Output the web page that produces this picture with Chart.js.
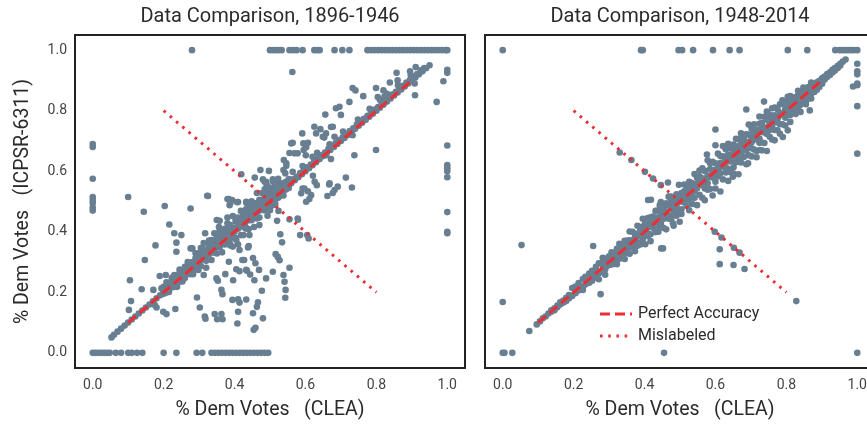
<!DOCTYPE html>
<html>
<head>
<meta charset="utf-8">
<title>Data Comparison</title>
<script src="https://cdn.jsdelivr.net/npm/chart.js@4.4.1/dist/chart.umd.min.js"></script>
<style>
  html, body { margin: 0; padding: 0; background: #fff; overflow: hidden; }
  body { width: 867px; height: 424px; position: relative; }
  .panel { position: absolute; top: 0; }
  #early-panel { left: 0; }
  #late-panel { left: 470px; }
</style>
</head>
<body>
<div class="panel" id="early-panel"><canvas id="early-chart" width="470" height="424"></canvas></div>
<div class="panel" id="late-panel"><canvas id="late-chart" width="410" height="424"></canvas></div>
<script>
// Axis ticks (both panels share them)
const axisTicks = [0, 0.2, 0.4, 0.6, 0.8, 1.0];
const axisTickLabels = ['0.0', '0.2', '0.4', '0.6', '0.8', '1.0'];

// Reference lines
const accuracyLine = [[0.1, 0.1], [0.9, 0.9]];
const mislabeledLine = [[0.2, 0.8], [0.8, 0.2]];

// ---- 1896-1946 ----
// districts sitting right on the diagonal
const earlyDiagonal = [
  [0.053,0.051],[0.06,0.06],[0.07,0.07],[0.08,0.08],[0.09,0.09],[0.1,0.1],[0.11,0.11],[0.12,0.12],[0.13,0.13],[0.14,0.14],
  [0.15,0.15],[0.16,0.16],[0.17,0.17],[0.18,0.18],[0.19,0.19],[0.2,0.2],[0.21,0.21],[0.22,0.22],[0.23,0.23],[0.24,0.24],
  [0.25,0.25],[0.26,0.26],[0.27,0.27],[0.28,0.28],[0.29,0.29],[0.3,0.3],[0.31,0.31],[0.32,0.32],[0.33,0.33],[0.34,0.34],
  [0.35,0.35],[0.36,0.36],[0.37,0.37],[0.38,0.38],[0.39,0.39],[0.4,0.4],[0.41,0.41],[0.42,0.42],[0.43,0.43],[0.44,0.44],
  [0.45,0.45],[0.46,0.46],[0.47,0.47],[0.48,0.48],[0.49,0.49],[0.5,0.5],[0.51,0.51],[0.52,0.52],[0.53,0.53],[0.54,0.54],
  [0.55,0.55],[0.56,0.56],[0.57,0.57],[0.58,0.58],[0.59,0.59],[0.6,0.6],[0.61,0.61],[0.62,0.62],[0.63,0.63],[0.64,0.64],
  [0.65,0.65],[0.66,0.66],[0.67,0.67],[0.68,0.68],[0.69,0.69],[0.7,0.7],[0.71,0.71],[0.72,0.72],[0.73,0.73],[0.74,0.74],
  [0.75,0.75],[0.76,0.76],[0.77,0.77],[0.78,0.78],[0.79,0.79],[0.8,0.8],[0.81,0.81],[0.82,0.82],[0.83,0.83],[0.84,0.84],
  [0.85,0.85],[0.86,0.86],[0.87,0.87],[0.88,0.88],[0.89,0.89],[0.9,0.9],[0.91,0.91],[0.92,0.92],[0.93,0.93],[0.94,0.94],[0.95,0.95]
];
// cluster around the diagonal: [x, y, y, ...]
const earlyBand = [
  [0.200, 0.207, 0.195, 0.218, 0.202], [0.208, 0.199, 0.221, 0.211, 0.233], [0.215, 0.231, 0.213, 0.223, 0.201],
  [0.223, 0.225, 0.245, 0.216, 0.234], [0.230, 0.241, 0.218, 0.257, 0.235], [0.238, 0.234, 0.245, 0.255, 0.218],
  [0.245, 0.265, 0.246, 0.235, 0.275], [0.253, 0.258, 0.267, 0.236, 0.262], [0.260, 0.247, 0.284, 0.264, 0.279],
  [0.268, 0.277, 0.261, 0.300, 0.266], [0.275, 0.298, 0.279, 0.260, 0.288], [0.283, 0.284, 0.300, 0.290, 0.260],
  [0.290, 0.313, 0.276, 0.329, 0.298], [0.298, 0.290, 0.313, 0.329, 0.274], [0.305, 0.346, 0.309, 0.287, 0.326],
  [0.313, 0.323, 0.342, 0.308, 0.363], [0.320, 0.304, 0.339, 0.327, 0.281], [0.328, 0.355, 0.326, 0.371, 0.341],
  [0.335, 0.340, 0.370, 0.307, 0.358], [0.343, 0.331, 0.355, 0.395, 0.336], [0.350, 0.382, 0.328, 0.367, 0.388],
  [0.358, 0.373, 0.403, 0.349, 0.361], [0.365, 0.361, 0.389, 0.332, 0.397], [0.373, 0.410, 0.381, 0.395, 0.358],
  [0.380, 0.382, 0.428, 0.365, 0.447], [0.388, 0.412, 0.355, 0.422, 0.396], [0.395, 0.382, 0.413, 0.452, 0.351],
  [0.403, 0.444, 0.409, 0.379, 0.434], [0.410, 0.419, 0.447, 0.424, 0.358], [0.418, 0.389, 0.440, 0.469, 0.419],
  [0.425, 0.457, 0.417, 0.445, 0.389], [0.433, 0.448, 0.496, 0.412, 0.475], [0.440, 0.438, 0.466, 0.484, 0.409],
  [0.448, 0.501, 0.459, 0.438, 0.476], [0.455, 0.476, 0.495, 0.416, 0.461], [0.463, 0.444, 0.466, 0.493, 0.528],
  [0.470, 0.506, 0.447, 0.483, 0.422], [0.478, 0.485, 0.528, 0.472, 0.502], [0.485, 0.514, 0.471, 0.540, 0.497],
  [0.493, 0.484, 0.526, 0.512, 0.453], [0.500, 0.546, 0.501, 0.471, 0.537], [0.508, 0.522, 0.567, 0.516, 0.488],
  [0.515, 0.492, 0.536, 0.556, 0.508], [0.523, 0.557, 0.512, 0.534, 0.575], [0.530, 0.536, 0.558, 0.519, 0.547],
  [0.538, 0.555, 0.535, 0.561, 0.520], [0.545, 0.540, 0.556, 0.549, 0.565], [0.553, 0.566, 0.574, 0.545, 0.554],
  [0.565, 0.573], [0.575, 0.582], [0.585, 0.594], [0.592, 0.617], [0.595, 0.601], [0.605, 0.613], [0.615, 0.622],
  [0.625, 0.634], [0.633, 0.661], [0.635, 0.641], [0.645, 0.653], [0.655, 0.662], [0.665, 0.674], [0.668, 0.689],
  [0.675, 0.681], [0.685, 0.693], [0.695, 0.703], [0.705, 0.712], [0.706, 0.731], [0.715, 0.723], [0.725, 0.733],
  [0.735, 0.742], [0.745, 0.754], [0.748, 0.771], [0.755, 0.761], [0.765, 0.773], [0.775, 0.783], [0.781, 0.806],
  [0.785, 0.792], [0.795, 0.804], [0.805, 0.812], [0.815, 0.823], [0.823, 0.847], [0.825, 0.833], [0.835, 0.842],
  [0.845, 0.853], [0.855, 0.862], [0.861, 0.884], [0.865, 0.874], [0.875, 0.882], [0.885, 0.893], [0.895, 0.902],
  [0.897, 0.918], [0.905, 0.913], [0.915, 0.921], [0.925, 0.933], [0.935, 0.941]
];
// scattered districts
const earlyScatter = [
  [0.100,0.515],[0.203,0.485],[0.144,0.466],[0.276,0.477],[0.323,0.519],
  [0.105,0.240],[0.108,0.171],[0.102,0.142],[0.138,0.210],[0.147,0.307],[0.177,0.355],[0.189,0.254],[0.171,0.208],
  [0.175,0.158],[0.180,0.150],[0.199,0.136],[0.208,0.128],[0.233,0.145],[0.194,0.213],[0.206,0.257],
  [0.216,0.424],[0.230,0.395],[0.236,0.364],[0.250,0.389],[0.236,0.334],[0.224,0.249],[0.236,0.243],[0.250,0.244],
  [0.276,0.345],[0.281,0.345],[0.294,0.183],[0.302,0.150],[0.316,0.120],[0.318,0.113],[0.313,0.257],[0.344,0.128],
  [0.363,0.128],[0.351,0.111],[0.366,0.111],[0.349,0.246],[0.353,0.238],[0.363,0.208],[0.366,0.194],[0.374,0.260],
  [0.384,0.301],[0.394,0.175],[0.396,0.240],[0.405,0.276],[0.414,0.270],[0.410,0.177],[0.414,0.166],[0.410,0.136],
  [0.408,0.097],[0.422,0.307],[0.433,0.274],[0.433,0.176],[0.438,0.348],[0.427,0.307],[0.435,0.271],[0.452,0.313],
  [0.459,0.296],[0.444,0.259],[0.456,0.240],[0.466,0.167],[0.463,0.152],[0.452,0.131],[0.459,0.083],[0.454,0.076],
  [0.480,0.114],[0.477,0.205],[0.489,0.246],[0.469,0.274],[0.508,0.268],[0.516,0.326],[0.522,0.317],[0.527,0.306],
  [0.534,0.365],[0.538,0.257],[0.541,0.235],[0.544,0.208],[0.543,0.182],[0.555,0.281],
  [0.335,0.373],[0.353,0.373],[0.317,0.395],[0.386,0.367],[0.405,0.373],[0.414,0.340],[0.440,0.353],[0.431,0.411],
  [0.442,0.389],[0.367,0.406],[0.356,0.416],
  [0.325,0.518],[0.384,0.508],[0.388,0.494],[0.410,0.498],[0.380,0.508],[0.393,0.505],[0.407,0.498],[0.386,0.488],
  [0.433,0.499],[0.419,0.590],[0.457,0.579],[0.480,0.573],[0.489,0.565],[0.473,0.604],[0.497,0.601],[0.485,0.565],
  [0.491,0.554],[0.508,0.573],[0.513,0.548],
  [0.539,0.637],[0.546,0.626],[0.543,0.593],[0.546,0.618],[0.538,0.604],[0.564,0.598],[0.557,0.565],[0.560,0.692],
  [0.569,0.659],[0.578,0.659],[0.555,0.660],[0.564,0.694],[0.591,0.725],[0.594,0.692],[0.602,0.679],[0.601,0.653],
  [0.595,0.670],[0.607,0.694],[0.625,0.747],[0.630,0.725],[0.649,0.714],[0.658,0.725],[0.677,0.747],[0.682,0.714],
  [0.642,0.739],[0.653,0.711],[0.620,0.648],[0.658,0.653],[0.656,0.787],[0.672,0.746],[0.686,0.808],[0.696,0.813],
  [0.700,0.786],[0.724,0.829],[0.733,0.875],[0.741,0.867],[0.763,0.848],[0.799,0.875],[0.804,0.845],[0.810,0.836],
  [0.820,0.867],[0.830,0.856],[0.838,0.893],[0.857,0.925],[0.860,0.900],[0.895,0.930],[0.911,0.944],[0.563,0.928],
  [0.632,0.554],[0.668,0.560],[0.682,0.538],[0.592,0.543],[0.607,0.534],[0.616,0.521],[0.602,0.499],[0.611,0.508],
  [0.588,0.527],[0.597,0.543],[0.621,0.585],[0.626,0.565],[0.662,0.518],[0.667,0.556],[0.677,0.528],[0.691,0.549],
  [0.714,0.579],[0.731,0.546],[0.738,0.653],[0.672,0.640],[0.799,0.670],[0.733,0.719],
  [0.585,0.389],[0.605,0.389],[0.609,0.378],[0.579,0.440],[0.520,0.436],[0.524,0.469],[0.555,0.441],[0.578,0.444],
  [0.529,0.392],[0.435,0.458],[0.350,0.439],[0.358,0.436],
  [0.909,0.851],[0.908,0.890],[0.970,0.829],[0.989,0.897]
];
// districts coded 0 or 1 in one of the sources
const earlyEdges = [
  [0,0.69],[0,0.68],[0,0.575],[0,0.515],[0,0.505],[0,0.495],[0,0.48],[0,0.47],
  [1,0.935],[1,0.925],[1,0.685],[1,0.62],[1,0.61],[1,0.6],[1,0.58],[1,0.465],[1,0.4],[1,0.395],
  [0,0],[0.008,0],[0.016,0],[0.024,0],[0.032,0],[0.04,0],[0.048,0],[0.065,0],[0.08,0],[0.1,0],[0.11,0],[0.125,0],
  [0.14,0],[0.2,0],[0.236,0],[0.293,0],[0.309,0],[0.335,0],[0.345,0],[0.355,0],[0.365,0],[0.375,0],[0.385,0],
  [0.395,0],[0.405,0],[0.415,0],[0.425,0],[0.435,0],[0.445,0],[0.455,0],[0.465,0],[0.475,0],[0.485,0],[0.495,0],
  [0.28,1],[0.5,1],[0.508,1],[0.516,1],[0.524,1],[0.533,1],[0.555,1],[0.565,1],[0.575,1],[0.592,1],[0.625,1],
  [0.633,1],[0.64,1],[0.682,1],[0.704,1],[0.724,1],[0.775,1],[0.785,1],[0.795,1],[0.805,1],[0.815,1],[0.825,1],
  [0.835,1],[0.845,1],[0.855,1],[0.865,1],[0.875,1],[0.885,1],[0.895,1],[0.905,1],[0.915,1],[0.925,1],[0.935,1],
  [0.945,1],[0.955,1],[0.965,1],[0.975,1],[0.985,1],[0.995,1],[1,1]
];

// ---- 1948-2014 ----
const lateBand = [
  [0.096, 0.094], [0.105, 0.104], [0.113, 0.114], [0.121, 0.12], [0.129, 0.13], [0.137, 0.136, 0.141],
  [0.146, 0.147, 0.141], [0.154, 0.156, 0.151], [0.162, 0.16, 0.167], [0.171, 0.173, 0.166], [0.179, 0.182, 0.171],
  [0.187, 0.191, 0.18], [0.196, 0.188, 0.214], [0.205, 0.219, 0.197], [0.214, 0.206, 0.231], [0.226, 0.219, 0.244, 0.208],
  [0.233, 0.251, 0.226], [0.244, 0.232, 0.262, 0.246], [0.252, 0.271, 0.238, 0.258], [0.263, 0.249, 0.284, 0.269],
  [0.271, 0.262, 0.296, 0.243], [0.282, 0.301, 0.271, 0.314, 0.288], [0.289, 0.276, 0.305, 0.258], [0.294, 0.312, 0.287],
  [0.300, 0.306, 0.290, 0.319, 0.298], [0.307, 0.292, 0.310, 0.318, 0.332], [0.315, 0.323, 0.310, 0.294, 0.330],
  [0.322, 0.344, 0.310, 0.323, 0.293], [0.329, 0.325, 0.342, 0.311, 0.360], [0.337, 0.354, 0.314, 0.343, 0.329],
  [0.344, 0.346, 0.370, 0.331, 0.310], [0.351, 0.331, 0.361, 0.371, 0.345], [0.358, 0.372, 0.356, 0.327, 0.401],
  [0.366, 0.400, 0.347, 0.371, 0.353], [0.373, 0.364, 0.394, 0.336, 0.382], [0.380, 0.385, 0.420, 0.365, 0.354],
  [0.388, 0.358, 0.405, 0.389, 0.416], [0.395, 0.417, 0.387, 0.375, 0.443], [0.402, 0.413, 0.431, 0.359, 0.399],
  [0.409, 0.395, 0.415, 0.445, 0.386], [0.417, 0.448, 0.392, 0.426, 0.369], [0.424, 0.423, 0.443, 0.413, 0.450],
  [0.431, 0.469, 0.399, 0.444, 0.426], [0.439, 0.419, 0.448, 0.471, 0.400], [0.446, 0.454, 0.498, 0.426, 0.449],
  [0.453, 0.482, 0.442, 0.413, 0.472], [0.461, 0.453, 0.494, 0.466, 0.408], [0.468, 0.486, 0.443, 0.516, 0.454],
  [0.475, 0.479, 0.516, 0.444, 0.499], [0.482, 0.463, 0.498, 0.480, 0.420], [0.490, 0.524, 0.484, 0.511, 0.453],
  [0.497, 0.507, 0.555, 0.470, 0.498], [0.504, 0.474, 0.528, 0.517, 0.459], [0.512, 0.534, 0.497, 0.556, 0.503],
  [0.519, 0.520, 0.555, 0.485, 0.547], [0.526, 0.565, 0.506, 0.535, 0.471], [0.534, 0.521, 0.561, 0.492, 0.548],
  [0.541, 0.557, 0.591, 0.534, 0.512], [0.548, 0.544, 0.560, 0.579, 0.488], [0.555, 0.583, 0.522, 0.560, 0.602],
  [0.563, 0.577, 0.610, 0.554, 0.512, 0.566], [0.570, 0.601, 0.573, 0.543, 0.504, 0.565], [0.578, 0.586, 0.636, 0.560, 0.539, 0.579],
  [0.585, 0.607, 0.581, 0.541, 0.626, 0.583], [0.592, 0.631, 0.603, 0.579, 0.520, 0.598], [0.600, 0.605, 0.626, 0.565, 0.543, 0.596],
  [0.607, 0.658, 0.624, 0.601, 0.583, 0.607], [0.614, 0.627, 0.650, 0.593, 0.533, 0.616], [0.621, 0.649, 0.619, 0.573, 0.683, 0.615],
  [0.629, 0.673, 0.638, 0.614, 0.596, 0.633], [0.636, 0.655, 0.691, 0.607, 0.568, 0.633], [0.643, 0.645, 0.676, 0.632, 0.597, 0.648],
  [0.651, 0.688, 0.666, 0.613, 0.592, 0.650], [0.658, 0.682, 0.707, 0.655, 0.630, 0.665], [0.665, 0.675, 0.706, 0.641, 0.590, 0.660],
  [0.672, 0.725, 0.692, 0.664, 0.629, 0.674], [0.680, 0.696, 0.673, 0.647, 0.711, 0.684], [0.687, 0.722, 0.693, 0.668, 0.623, 0.685],
  [0.694, 0.721, 0.754, 0.653, 0.682, 0.697], [0.702, 0.711, 0.740, 0.676, 0.649, 0.696], [0.709, 0.755, 0.727, 0.704, 0.672, 0.710],
  [0.716, 0.737, 0.720, 0.667, 0.646, 0.713], [0.724, 0.757, 0.781, 0.708, 0.694, 0.729], [0.731, 0.743, 0.760, 0.695, 0.669, 0.730],
  [0.738, 0.780, 0.745, 0.728, 0.693, 0.741], [0.745, 0.770, 0.797, 0.723, 0.667, 0.741], [0.753, 0.759, 0.787, 0.714, 0.736, 0.755],
  [0.760, 0.808, 0.774, 0.753, 0.705, 0.755], [0.767, 0.785, 0.810, 0.736, 0.702, 0.771], [0.775, 0.805, 0.776, 0.761, 0.735, 0.773],
  [0.782, 0.793, 0.821, 0.755, 0.724, 0.788], [0.789, 0.825, 0.834, 0.785, 0.755, 0.791], [0.797, 0.820, 0.805, 0.751, 0.777, 0.794],
  [0.804, 0.846, 0.830, 0.792, 0.735, 0.807], [0.811, 0.826, 0.848, 0.786, 0.763, 0.810], [0.818, 0.842, 0.820, 0.796, 0.809],
  [0.826, 0.830, 0.845, 0.814, 0.789], [0.833, 0.850, 0.866, 0.828, 0.808], [0.840, 0.852, 0.847, 0.820, 0.796],
  [0.848, 0.868, 0.876, 0.838, 0.831], [0.855, 0.857, 0.869, 0.829, 0.821], [0.862, 0.878, 0.867, 0.855, 0.840],
  [0.870, 0.880, 0.893, 0.856, 0.840], [0.879, 0.886, 0.873, 0.862], [0.886, 0.881, 0.894, 0.869], [0.893, 0.899, 0.888, 0.878],
  [0.901, 0.896, 0.908, 0.889], [0.908, 0.913, 0.903], [0.915, 0.911, 0.921], [0.923, 0.927, 0.918], [0.930, 0.926, 0.935],
  [0.937, 0.941, 0.933], [0.945, 0.948, 0.941], [0.952, 0.955, 0.949], [0.959, 0.962], [0.967, 0.969]
];
const lateScatter = [
  [0.053,0.356],[0.075,0.072],[0.255,0.353],[0.276,0.194],[0.447,0.345],[0.452,0.345],[0.828,0.171],
  [0.33,0.662],[0.363,0.637],[0.401,0.598],[0.424,0.576],[0.446,0.554],[0.466,0.563],[0.48,0.428],[0.499,0.433],
  [0.598,0.4],[0.617,0.381],[0.612,0.342],[0.612,0.293],[0.652,0.347],[0.668,0.331],[0.651,0.29],[0.682,0.277],
  [0.6,0.738],[0.687,0.804],[0.737,0.83],[0.6,0.686],[0.576,0.655],[0.418,0.506],[0.41,0.505],[0.443,0.488],
  [0.866,0.801],[0.79,0.713],[0.725,0.67],[0.692,0.626],[0.649,0.582],[0.988,0.88]
];
const lateEdges = [
  [0,0.168],[0,0],[0.005,0],[0.027,0],[0.455,0],[1,0],
  [1,0.955],[1,0.93],[1,0.92],[1,0.89],[1,0.884],[1,0.815],[1,0.658],
  [0,1],[0.39,1],[0.395,1],[0.496,1],[0.506,1],[0.537,1],[0.593,1],[0.64,1],[0.668,1],[0.804,1],[0.859,1],
  [0.938,1],[0.95,1],[0.958,1],[0.966,1],[0.974,1],[0.982,1],[0.99,1],[1,1]
];

const RED = '#ec2d32';
const DOT = '#687f92';
const TEXT = '#2b2b2b';
const FONT = 'Roboto, "DejaVu Sans", sans-serif';

/**
 * Turn [x, y] pairs into chart points
 */
function toPoints(pairs) {
  return pairs.map(([x, y]) => ({ x, y }));
}

/**
 * Turn band rows [x, y, y, ...] into chart points
 */
function bandPoints(rows) {
  return rows.flatMap(([x, ...ys]) => ys.map(y => ({ x, y })));
}

/**
 * Dark frame around the plot area, plus the panel title centred over it
 */
const framePlugin = {
  id: 'frame',
  afterDraw(chart, args, opts) {
    const { ctx, chartArea: a } = chart;
    ctx.save();
    ctx.strokeStyle = '#222';
    ctx.lineWidth = 2;
    ctx.strokeRect(a.left, a.top, a.right - a.left, a.bottom - a.top);
    ctx.fillStyle = TEXT;
    ctx.font = '20px ' + FONT;
    ctx.textAlign = 'center';
    ctx.textBaseline = 'middle';
    ctx.fillText(opts.title, (a.left + a.right) / 2, 17);
    ctx.restore();
  }
};

/**
 * Legend with line samples, drawn inside the plot
 */
const lineLegendPlugin = {
  id: 'lineLegend',
  afterDraw(chart, args, opts) {
    if (!opts.show) return;
    const ctx = chart.ctx;
    const x0 = chart.chartArea.left + opts.left;
    chart.data.datasets.filter(d => d.type === 'line').forEach((ds, i) => {
      const y = opts.top + i * opts.rowGap;
      ctx.save();
      ctx.strokeStyle = ds.borderColor;
      ctx.lineWidth = ds.borderWidth;
      ctx.setLineDash(ds.borderDash);
      ctx.beginPath();
      ctx.moveTo(x0, y);
      ctx.lineTo(x0 + opts.sample, y);
      ctx.stroke();
      ctx.setLineDash([]);
      ctx.fillStyle = TEXT;
      ctx.font = '16px ' + FONT;
      ctx.textBaseline = 'middle';
      ctx.fillText(ds.label, x0 + opts.sample + 6, y);
      ctx.restore();
    });
  }
};

/**
 * Shared linear axis setup
 */
function axisOptions(titleText, titlePadding, extra) {
  return Object.assign({
    type: 'linear',
    min: -0.05,
    max: 1.05,
    grid: { display: false, drawTicks: false },
    border: { display: false },
    afterBuildTicks: scale => { scale.ticks = axisTicks.map(v => ({ value: v })); },
    ticks: {
      padding: 9,
      color: '#444',
      font: { family: FONT, size: 14 },
      callback: (v, i) => axisTickLabels[i]
    },
    title: {
      display: !!titleText,
      text: titleText,
      color: TEXT,
      font: { family: FONT, size: 19.5 },
      padding: titlePadding
    }
  }, extra);
}

function buildChart(canvasId, cfg) {
  return new Chart(document.getElementById(canvasId), {
    type: 'scatter',
    data: {
      datasets: [
        {
          type: 'line', label: 'Perfect Accuracy', data: toPoints(accuracyLine),
          borderColor: RED, borderWidth: 3, borderDash: [10, 5], pointRadius: 0, fill: false
        },
        {
          type: 'line', label: 'Mislabeled', data: toPoints(mislabeledLine),
          borderColor: RED, borderWidth: 3, borderDash: [2.6, 5.6], pointRadius: 0, fill: false
        },
        {
          label: 'Districts', data: cfg.points,
          backgroundColor: DOT, pointRadius: 3.3, pointHoverRadius: 3.3, borderWidth: 0
        }
      ]
    },
    options: {
      responsive: false,
      animation: false,
      layout: { padding: { left: 0, right: 5, top: 35, bottom: 0 } },
      plugins: {
        legend: { display: false },
        tooltip: { enabled: false },
        title: { display: false },
        frame: { title: cfg.title },
        lineLegend: cfg.legend
      },
      scales: {
        x: axisOptions('% Dem Votes   (CLEA)', { top: 0, bottom: 2.5 }, {
          afterFit: s => { s.height = 56; }
        }),
        y: axisOptions(cfg.yTitle, { top: 11.5, bottom: 0 }, {
          ticks: {
            display: cfg.showYLabels,
            padding: 8,
            color: '#444',
            font: { family: FONT, size: 14 },
            callback: (v, i) => axisTickLabels[i]
          },
          afterFit: s => { s.width = cfg.yWidth; }
        })
      }
    },
    plugins: [framePlugin, lineLegendPlugin]
  });
}

buildChart('early-chart', {
  title: 'Data Comparison, 1896-1946',
  yTitle: '% Dem Votes   (ICPSR-6311)',
  showYLabels: true,
  yWidth: 75,
  legend: { show: false },
  points: [...toPoints(earlyEdges), ...toPoints(earlyDiagonal), ...bandPoints(earlyBand), ...toPoints(earlyScatter)]
});

buildChart('late-chart', {
  title: 'Data Comparison, 1948-2014',
  yTitle: '',
  showYLabels: false,
  yWidth: 15,
  legend: { show: true, left: 115, top: 314, rowGap: 22, sample: 32 },
  points: [...toPoints(lateEdges), ...bandPoints(lateBand), ...toPoints(lateScatter)]
});
</script>
</body>
</html>
